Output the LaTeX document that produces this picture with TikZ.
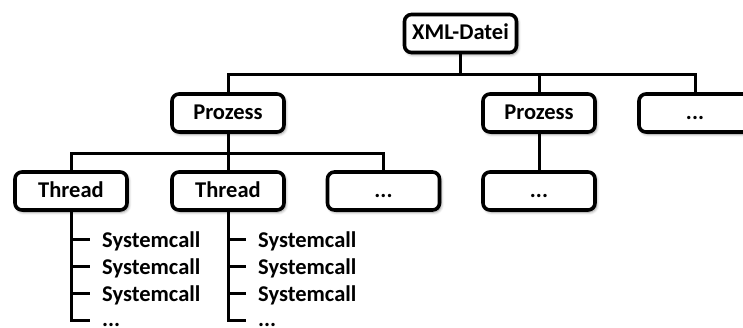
\documentclass[tikz,border=0pt]{standalone}
\usepackage{fontspec}
\setmainfont{Carlito}
\usetikzlibrary{shadows.blur}
\begin{document}
\begin{tikzpicture}[x=1bp,y=-1bp,
  box/.style={draw=black, line width=3.6bp, rounded corners=7bp, fill=white,
    minimum width=112bp, minimum height=38bp, inner sep=0pt,
    text height=17bp, text depth=5bp,
    blur shadow={shadow xshift=1.5bp, shadow yshift=-2bp, shadow blur steps=6,
      shadow blur radius=3bp, shadow opacity=45}},
  link/.style={line width=3bp, line cap=rect},
  tick/.style={line width=3bp, line cap=butt},
  call/.style={anchor=base west, inner sep=0pt},
  every node/.style={font=\fontsize{22.6pt}{27pt}\selectfont\bfseries}]
\useasboundingbox (0,0) rectangle (743,327);

% tree boxes
\node[box] (xml) at (460.5,33.5) {XML-Datei};
\node[box] (p1)  at (228,113) {Prozess};
\node[box] (p2)  at (539,113) {Prozess};
\node[box] (pd)  at (695,113) {...};
\node[box] (t1)  at (71,191) {Thread};
\node[box] (t2)  at (228,191) {Thread};
\node[box] (td)  at (383.5,191) {...};
\node[box] (pd2) at (539,191) {...};

% bus lines
\coordinate (busA) at (0,74);
\coordinate (busB) at (0,153);

% level 1
\draw[link] (xml.south) -- (xml.south |- busA);
\draw[link] (p1.north) -- (p1.north |- busA) -- (pd.north |- busA) -- (pd.north);
\draw[link] (p2.north) -- (p2.north |- busA);
% level 2
\draw[link] (p1.south) -- (p1.south |- busB);
\draw[link] (t1.north) -- (t1.north |- busB) -- (td.north |- busB) -- (td.north);
\draw[link] (t2.north) -- (t2.north |- busB);
\draw[link] (p2.south) -- (pd2.north);

% system calls of both threads
\foreach \t/\x/\p in {t1/102/a, t2/258/b} {
  \node[call] (\p1) at (\x,247) {Systemcall};
  \node[call] (\p2) at (\x,274) {Systemcall};
  \node[call] (\p3) at (\x,301) {Systemcall};
  \node[call] (\p4) at (\x,326) {...};
  \foreach \i in {1,2,3}
    \coordinate (\p\i t) at ([xshift=-12bp,yshift=8bp]\p\i.base west);
  \coordinate (\p4t) at ([xshift=-12bp,yshift=6bp]\p4.base west);
  \draw[tick] (\t.south) -- (\t.south |- \p4t) -- (\p4t);
  \foreach \i in {1,2,3}
    \draw[tick] (\t.south |- \p\i t) -- (\p\i t);
}
\end{tikzpicture}
\end{document}
